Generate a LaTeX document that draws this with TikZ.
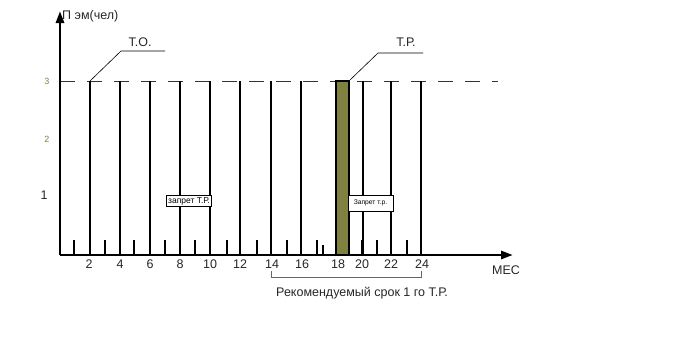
\documentclass[tikz,border=0pt]{standalone}
\usepackage{fontspec}
\setmainfont{Liberation Sans}
\usetikzlibrary{positioning, arrows.meta}
\definecolor{olivebar}{RGB}{128,128,64}

\begin{document}
\begin{tikzpicture}[x=1pt, y=-1pt,
                    axis/.style={line width=2.8pt, -{Triangle[length=12pt, width=8pt]}},
                    month/.style={line width=2pt},
                    stub/.style={line width=2pt},
                    level/.style={dash pattern=on 15pt off 12pt, line width=1pt, black!80},
                    leader/.style={line width=0.6pt},
                    banbox/.style={draw, fill=white, line width=0.6pt, inner sep=1.5pt},
                    trbar/.style={draw, fill=olivebar, line width=2pt, minimum width=13pt, minimum height=174pt, inner sep=0pt},
                    lbl/.style={font=\fontsize{12.5}{15}\selectfont, inner sep=0pt, text=black!85}]

    \useasboundingbox (0,0) rectangle (698,359);

    % Level line
    \coordinate (lvlstart) at (60,81);
    \coordinate (lvlend) at (498,81);
    \draw[level] (lvlstart) -- (lvlend);

    % Months
    \foreach \x in {90,120,150,180,210,240,271,301,363,391,421}
        \draw[month] (\x,81) -- (\x,255);
    \foreach \x in {74,105,134,165,195,227,257,287,317,362,377,407}
        \draw[stub] (\x,240) -- (\x,255);
    \draw[stub] (323,245) -- (323,255);

    % Nodes
    \node[trbar] (tr) at (342.5,168) {};
    \node[banbox, font=\fontsize{8.5}{10}\selectfont] (ban1) at (189,201) {запрет Т.Р.};
    \node[banbox, font=\fontsize{6.7}{8}\selectfont, inner xsep=6pt, minimum height=16pt] (ban2) at (370.5,203) {Запрет т.р.};

    \node[lbl, anchor=west] (ylabel) at (62,16) {П эм(чел)};
    \node[lbl] (xlabel) at (506,270) {МЕС};
    \node[lbl] (tolabel) at (140,42) {Т.О.};
    \node[lbl] (trlabel) at (406,42) {Т.Р.};
    \node[font=\fontsize{9}{10}\selectfont, text=olivebar] (lvl3) at (47,81) {3};
    \node[font=\fontsize{9}{10}\selectfont, text=olivebar] (lvl2) at (47,139) {2};
    \node[lbl] (lvl1) at (44,195) {1};
    \foreach \m/\x in {2/89,4/120,6/150,8/180,10/210,12/240,14/272,16/302,18/338,20/362,22/391,24/422}
        \node[lbl] (tick\m) at (\x,264) {\m};
    \node[lbl] (rec) at (362,293) {Рекомендуемый срок 1 го Т.Р.};

    % Axes
    \coordinate (origin) at (60,255);
    \coordinate (ytip) at (60,11);
    \coordinate (xtip) at (513,255);
    \draw[axis] (origin) -- (ytip);
    \draw[axis] (origin) -- (xtip);

    % Paths
    \coordinate (tofoot) at (90,81);
    \coordinate (tobend) at (121,51);
    \coordinate (toend) at (165,51);
    \draw[leader] (tofoot) -- (tobend) -- (toend);
    \coordinate (trbend) at (378,53);
    \coordinate (trend) at (423,53);
    \draw[leader] (tr.north east) -- (trbend) -- (trend);
    \coordinate (br14) at (271,271);
    \coordinate (br24) at (421,271);
    \draw[leader, black!60] (br14) -- ++(0,6) -| (br24);

\end{tikzpicture}
\end{document}
